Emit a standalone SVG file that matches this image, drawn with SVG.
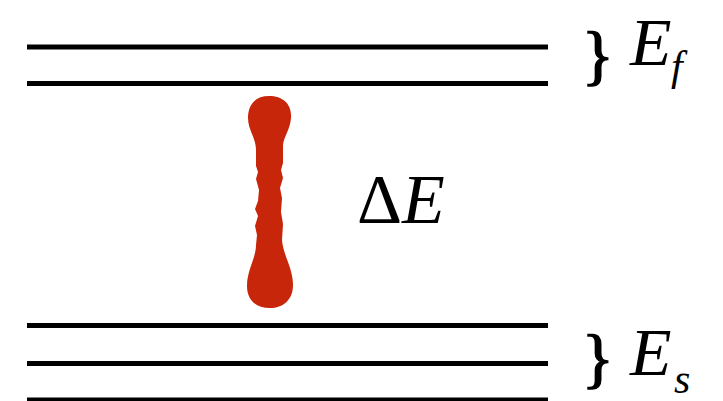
<svg xmlns="http://www.w3.org/2000/svg" width="723" height="401" viewBox="0 0 723 401">
<style>
.lvl{stroke:#000;stroke-width:5;fill:none}
</style>
<rect width="723" height="401" fill="#fff"/>
<g id="levels">
<line class="lvl" x1="27" y1="47" x2="548" y2="47"/>
<line class="lvl" x1="27" y1="83.5" x2="548" y2="83.5"/>
<line class="lvl" x1="27" y1="325.5" x2="548" y2="325.5"/>
<line class="lvl" x1="27" y1="363.5" x2="548" y2="363.5"/>
<line class="lvl" x1="27" y1="400" x2="548" y2="400"/>
</g>
<g id="transition">
<path fill="#C8260A" d="M269 96 C283 96 292 104 291 118 C290 130 284 136 283 145 L283 163 L281 170 L283 178 L280 188 L282 198 L281 212 L283 224 L282 240 C283 255 293 268 293 285 C293 300 283 308 270 308 C256 308 247 300 247 286 C247 270 256 258 256 245 L257 235 L255 226 L258 216 L255 209 L258 201 L259 190 L256 179 L258 172 L256 166 L256 150 C256 138 248 130 248 118 C248 104 256 96 269 96 Z"/>
</g>
<g id="labels" font-family="'Liberation Serif','Times New Roman',Tinos,'DejaVu Serif',serif" fill="#000">
<text x="582" y="77" font-size="66" stroke="#000" stroke-width="1.5">}</text>
<text x="630" y="65" font-size="68" font-style="italic">E</text>
<text x="671" y="80" font-size="42" font-style="italic">f</text>
<text x="582" y="380" font-size="66" stroke="#000" stroke-width="1.5">}</text>
<text x="630" y="375" font-size="68" font-style="italic">E</text>
<text x="674" y="393" font-size="42" font-style="italic">s</text>
<text x="357" y="223" font-size="70">Δ<tspan font-style="italic">E</tspan></text>
</g>
</svg>
